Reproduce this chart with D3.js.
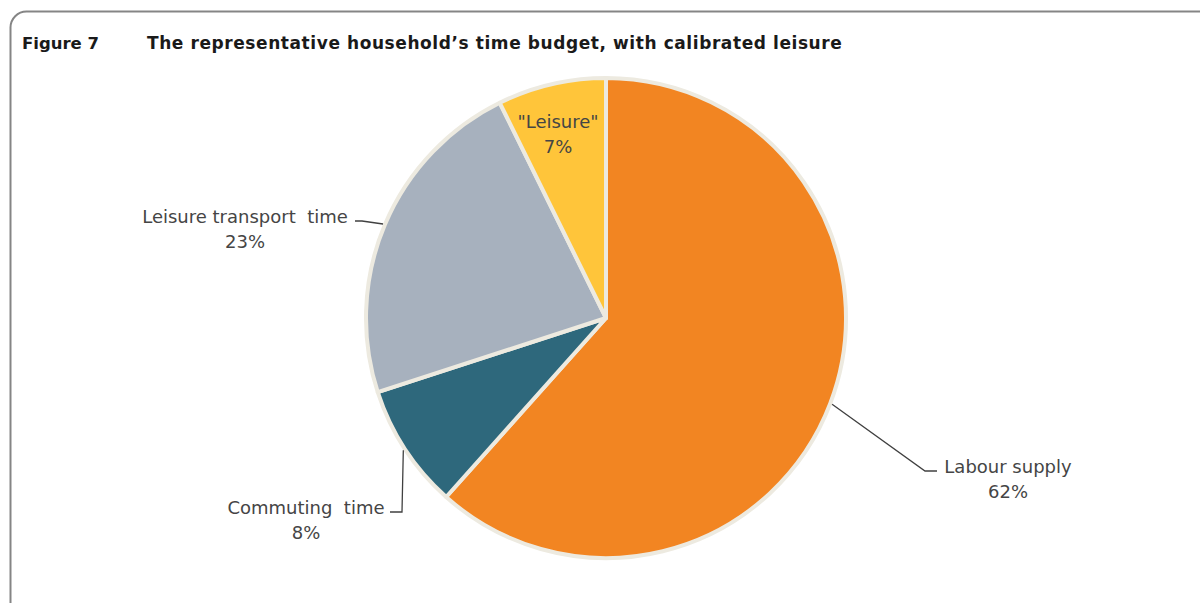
<!DOCTYPE html>
<html>
<head>
<meta charset="utf-8">
<script src="https://cdn.jsdelivr.net/npm/d3@7"></script>
<style>
  body { margin: 0; background: #fff; }
  svg { display: block; }
</style>
</head>
<body>
<svg id="chart" width="1200" height="603"></svg>
<script>
// data (share of time, %)
var categories = ["Labour supply", "Commuting  time", "Leisure transport  time", "\"Leisure\""];
var shares = [61.6, 8.4, 22.7, 7.3];
var shareLabels = ["62%", "8%", "23%", "7%"];
var colors = ["#F28522", "#2E687C", "#A7B1BE", "#FFC53A"];

var svg = d3.select("#chart");

// frame
svg.append("rect")
    .attr("x", 10.5).attr("y", 11.5)
    .attr("width", 1220).attr("height", 620)
    .attr("rx", 16).attr("ry", 16)
    .attr("fill", "none")
    .attr("stroke", "#858585")
    .attr("stroke-width", 2);

// title
var titleFont = "DejaVu Sans, Verdana, sans-serif";
svg.append("text")
    .attr("x", 22).attr("y", 49)
    .style("font-family", titleFont)
    .style("font-weight", "bold")
    .style("font-size", "16.5px")
    .attr("fill", "#1a1a1a")
    .text("Figure 7");

svg.append("text")
    .attr("x", 147).attr("y", 49)
    .style("font-family", titleFont)
    .style("font-weight", "bold")
    .style("font-size", "17px")
    .style("letter-spacing", "0.58px")
    .attr("fill", "#1a1a1a")
    .text("The representative household\u2019s time budget, with calibrated leisure");

var cx = 606, cy = 318, radius = 240;

var pie = d3.pie().sort(null).value(function(d) { return d; });
var arcs = pie(shares);
var arc = d3.arc().innerRadius(0).outerRadius(radius);

var g = svg.append("g").attr("transform", "translate(" + cx + "," + cy + ")");

// outer rim
g.append("circle").attr("r", radius + 1).attr("fill", "#EDEAE0");

g.selectAll("path.slice").data(arcs)
    .enter().append("path")
    .attr("class", "slice")
    .attr("d", arc)
    .attr("fill", function(d, i) { return colors[i]; })
    .attr("stroke", "#EDEAE0")
    .attr("stroke-width", 4)
    .attr("stroke-linejoin", "round");

// label layout (positions of the text blocks on the page)
var labelPos = [
    {x: 1008, y: 473, elbow: [925, 471], end: [937, 471], leader: true},
    {x: 306, y: 514, elbow: [402, 512], end: [390, 512], leader: true},
    {x: 245, y: 223, elbow: [362, 221], end: [355, 221], leader: true},
    {x: 558, y: 128, leader: false}
];

arcs.forEach(function(a, i) {
    var p = labelPos[i];
    if (p.leader) {
        var mid = (a.startAngle + a.endAngle) / 2;
        var sx = cx + (radius + 2) * Math.sin(mid);
        var sy = cy - (radius + 2) * Math.cos(mid);
        svg.append("path")
            .attr("d", d3.line()([[sx, sy], p.elbow, p.end]))
            .attr("fill", "none")
            .attr("stroke", "#404040")
            .attr("stroke-width", 1.3);
    }
    var t = svg.append("text")
        .attr("x", p.x).attr("y", p.y)
        .attr("text-anchor", "middle")
        .style("font-family", "DejaVu Sans, Verdana, sans-serif")
        .style("font-size", "18px")
        .style("white-space", "pre")
        .attr("fill", "#454545");
    t.append("tspan").attr("x", p.x).text(categories[i]);
    t.append("tspan").attr("x", p.x).attr("dy", 25).text(shareLabels[i]);
});
</script>
</body>
</html>
